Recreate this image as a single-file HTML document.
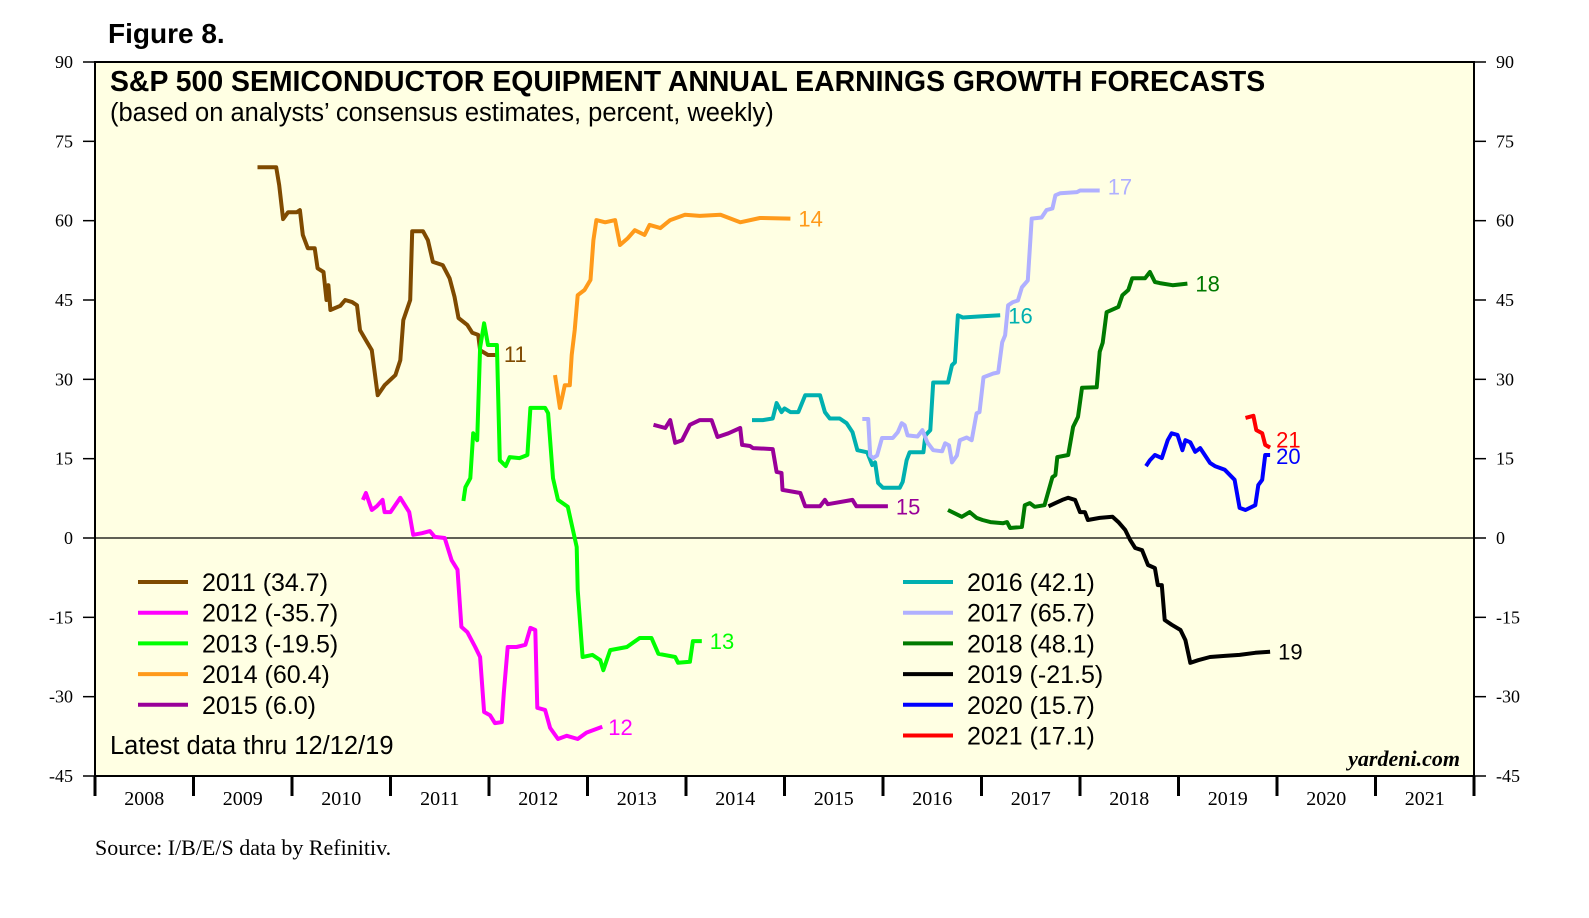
<!DOCTYPE html>
<html><head><meta charset="utf-8"><style>
body{margin:0;background:#fff;}
svg{display:block;}
</style></head><body>
<svg id="chart" width="1589" height="918" xmlns="http://www.w3.org/2000/svg">
<text x="108" y="43" font-family="Liberation Sans, sans-serif" font-weight="bold" font-size="28">Figure 8.</text>
<rect x="95" y="62" width="1379" height="714" fill="#FFFFE3" stroke="#000" stroke-width="2"/>
<text x="110" y="91" font-family="Liberation Sans, sans-serif" font-weight="bold" font-size="28.4">S&amp;P 500 SEMICONDUCTOR EQUIPMENT ANNUAL EARNINGS GROWTH FORECASTS</text>
<text x="110" y="121" font-family="Liberation Sans, sans-serif" font-size="25.5">(based on analysts’ consensus estimates, percent, weekly)</text>
<g id="axes"></g>
<g id="series"></g>
<g id="legend"></g>
<text x="110" y="754" font-family="Liberation Sans, sans-serif" font-size="25.5">Latest data thru 12/12/19</text>
<text x="1460" y="766" text-anchor="end" font-family="Liberation Serif, serif" font-weight="bold" font-style="italic" font-size="22">yardeni.com</text>
<text x="95" y="855" font-family="Liberation Serif, serif" font-size="22">Source: I/B/E/S data by Refinitiv.</text>
</svg>
<script>
const yTicks=[90,75,60,45,30,15,0,-15,-30,-45];
const years=[2008,2009,2010,2011,2012,2013,2014,2015,2016,2017,2018,2019,2020,2021];
const seriesNames=['2011','2012','2013','2014','2015','2016','2017','2018','2019','2020','2021'];
const legendValues=['34.7','-35.7','-19.5','60.4','6.0','42.1','65.7','48.1','-21.5','15.7','17.1'];
const endLabels=['11','12','13','14','15','16','17','18','19','20','21'];
const s2011=[[2009.65,70.1],[2009.84,70.1],[2009.87,66.7],[2009.91,60.3],[2009.96,61.6],[2010.05,61.6],[2010.08,62],[2010.11,57.3],[2010.16,54.8],[2010.23,54.8],[2010.26,51],[2010.32,50.3],[2010.35,45],[2010.37,47.8],[2010.39,43.1],[2010.49,43.9],[2010.54,45],[2010.61,44.6],[2010.66,44],[2010.69,39.3],[2010.75,37.4],[2010.81,35.5],[2010.87,27],[2010.94,28.9],[2011.05,30.8],[2011.10,33.6],[2011.13,41.2],[2011.20,45],[2011.22,58],[2011.33,58],[2011.38,56.3],[2011.43,52.2],[2011.53,51.6],[2011.60,49.1],[2011.65,45.6],[2011.69,41.6],[2011.78,40.3],[2011.83,38.8],[2011.89,38.4],[2011.91,35.5],[2011.99,34.6],[2012.09,34.6]];
const s2012=[[2010.72,7.2],[2010.75,8.5],[2010.81,5.3],[2010.86,6],[2010.92,7.2],[2010.94,4.9],[2011.0,4.9],[2011.10,7.6],[2011.19,4.9],[2011.23,0.6],[2011.32,0.9],[2011.40,1.3],[2011.45,0.2],[2011.55,0],[2011.62,-4.2],[2011.68,-6],[2011.72,-16.8],[2011.78,-17.8],[2011.86,-20.6],[2011.91,-22.5],[2011.95,-32.9],[2012.01,-33.5],[2012.06,-35],[2012.13,-34.8],[2012.15,-29.3],[2012.19,-20.6],[2012.28,-20.6],[2012.37,-20.2],[2012.42,-17],[2012.47,-17.4],[2012.49,-32.1],[2012.57,-32.5],[2012.62,-35.9],[2012.70,-38],[2012.79,-37.4],[2012.90,-38],[2012.99,-36.8],[2013.15,-35.7]];
const s2013=[[2011.74,7],[2011.76,9.6],[2011.81,11.3],[2011.84,19.8],[2011.88,18.5],[2011.91,36],[2011.95,40.6],[2011.99,36.5],[2012.08,36.5],[2012.11,14.7],[2012.17,13.6],[2012.21,15.3],[2012.31,15.1],[2012.39,15.7],[2012.42,24.6],[2012.57,24.6],[2012.60,23.6],[2012.65,11.3],[2012.70,7.2],[2012.80,5.9],[2012.89,-1.7],[2012.90,-9.8],[2012.95,-22.5],[2013.05,-22.1],[2013.13,-23.1],[2013.16,-25],[2013.23,-21.2],[2013.40,-20.6],[2013.53,-18.9],[2013.65,-18.9],[2013.72,-21.9],[2013.89,-22.5],[2013.92,-23.6],[2014.04,-23.4],[2014.07,-19.5],[2014.16,-19.5]];
const s2014=[[2012.67,30.8],[2012.72,24.6],[2012.77,28.9],[2012.82,28.9],[2012.84,34.6],[2012.87,39.3],[2012.90,45.9],[2012.97,46.9],[2013.03,48.8],[2013.06,56.3],[2013.09,60.1],[2013.18,59.7],[2013.28,60.1],[2013.33,55.4],[2013.41,56.7],[2013.48,58.2],[2013.58,57.3],[2013.63,59.2],[2013.74,58.6],[2013.84,60.1],[2013.99,61.1],[2014.14,60.9],[2014.35,61.1],[2014.55,59.7],[2014.75,60.5],[2015.06,60.4]];
const s2015=[[2013.67,21.4],[2013.79,20.8],[2013.84,22.3],[2013.89,18],[2013.96,18.5],[2014.04,21.4],[2014.14,22.3],[2014.26,22.3],[2014.32,19.1],[2014.43,19.8],[2014.55,20.8],[2014.57,17.6],[2014.65,17.4],[2014.68,17],[2014.88,16.8],[2014.92,12.5],[2014.97,12.3],[2014.98,9.1],[2015.16,8.5],[2015.21,6],[2015.36,6],[2015.41,7.2],[2015.44,6.4],[2015.69,7.2],[2015.73,6],[2016.05,6]];
const s2016=[[2014.67,22.3],[2014.78,22.3],[2014.88,22.6],[2014.92,25.5],[2014.97,23.8],[2015.00,24.5],[2015.06,23.8],[2015.14,23.8],[2015.21,27],[2015.36,27],[2015.41,23.8],[2015.46,22.6],[2015.56,22.6],[2015.63,21.7],[2015.69,20],[2015.74,16.6],[2015.84,16.2],[2015.89,13.8],[2015.92,14.3],[2015.95,10.4],[2016.00,9.5],[2016.17,9.5],[2016.20,10.6],[2016.24,14.7],[2016.27,16.2],[2016.41,16.2],[2016.43,19.4],[2016.48,20.4],[2016.51,29.4],[2016.66,29.4],[2016.70,32.7],[2016.73,33.2],[2016.76,42.1],[2016.81,41.7],[2016.99,41.9],[2017.19,42.1]];
const s2017=[[2015.79,22.5],[2015.85,22.5],[2015.87,15.6],[2015.90,15.1],[2015.94,15.6],[2015.99,18.9],[2016.10,18.9],[2016.15,20],[2016.19,21.7],[2016.22,21.3],[2016.25,19.4],[2016.35,19.2],[2016.40,20.4],[2016.45,18.1],[2016.51,16.6],[2016.60,16.4],[2016.63,17.9],[2016.67,17.5],[2016.70,14.3],[2016.75,15.6],[2016.78,18.5],[2016.85,19],[2016.90,18.5],[2016.95,23.6],[2016.98,23.8],[2017.02,30.4],[2017.12,31.1],[2017.17,31.3],[2017.21,37],[2017.24,38.3],[2017.27,44],[2017.32,44.6],[2017.37,44.9],[2017.41,47.4],[2017.47,48.7],[2017.51,60.4],[2017.61,60.6],[2017.66,62],[2017.72,62.3],[2017.75,64.8],[2017.80,65.2],[2017.97,65.4],[2018.00,65.7],[2018.20,65.7]];
const s2018=[[2016.66,5.3],[2016.80,4],[2016.88,4.9],[2016.95,3.8],[2017.01,3.4],[2017.09,3],[2017.22,2.8],[2017.26,3],[2017.29,1.9],[2017.41,2.1],[2017.44,6.2],[2017.49,6.6],[2017.54,5.9],[2017.64,6.2],[2017.72,11.5],[2017.75,11.9],[2017.77,15.3],[2017.88,15.7],[2017.93,21],[2017.98,22.9],[2018.02,28.4],[2018.17,28.5],[2018.20,35.2],[2018.23,36.9],[2018.27,42.7],[2018.39,43.7],[2018.43,45.9],[2018.49,46.9],[2018.53,49.1],[2018.66,49.1],[2018.71,50.3],[2018.76,48.4],[2018.81,48.2],[2018.94,47.8],[2019.09,48.1]];
const s2019=[[2017.68,6],[2017.75,6.6],[2017.82,7.2],[2017.88,7.6],[2017.95,7.2],[2018.00,4.9],[2018.05,4.9],[2018.08,3.4],[2018.20,3.8],[2018.33,4],[2018.39,3],[2018.46,1.5],[2018.51,-0.4],[2018.56,-1.9],[2018.63,-2.3],[2018.69,-5.1],[2018.76,-5.7],[2018.79,-8.9],[2018.83,-8.9],[2018.86,-15.5],[2018.93,-16.4],[2019.02,-17.4],[2019.07,-19.3],[2019.12,-23.6],[2019.20,-23.1],[2019.32,-22.5],[2019.47,-22.3],[2019.62,-22.1],[2019.78,-21.7],[2019.93,-21.5]];
const s2020=[[2018.67,13.6],[2018.71,14.7],[2018.76,15.7],[2018.83,15.1],[2018.89,18.5],[2018.93,19.8],[2018.99,19.5],[2019.04,16.6],[2019.07,18.5],[2019.12,18.1],[2019.17,16.3],[2019.22,17],[2019.32,14.2],[2019.37,13.6],[2019.47,12.9],[2019.57,11],[2019.62,5.7],[2019.68,5.3],[2019.78,6.2],[2019.81,10],[2019.85,11],[2019.88,15.7],[2019.93,15.7]];
const s2021=[[2019.68,22.7],[2019.76,23.1],[2019.79,20.4],[2019.85,19.8],[2019.88,17.6],[2019.93,17.1]];
const allSeries=[s2011,s2012,s2013,s2014,s2015,s2016,s2017,s2018,s2019,s2020,s2021];
const colors=['#7F4A00','#FF00FF','#00FF00','#FF9A1A','#990099','#00B0B0','#B0B0FF','#007A00','#000000','#0000FF','#FF0000'];
const labelOffsets=[[6,7],[6,8],[8,8],[8,8],[8,8],[8,8],[8,4],[8,8],[8,8],[6,9],[6,0]];

const NS='http://www.w3.org/2000/svg';
const X0=95,X1=1474,Y0=62,Y1=776;
function xs(t){return X0+(t-2008)/14*(X1-X0);}
function ys(v){return Y0+(90-v)/135*(Y1-Y0);}
function mk(tag,attrs,parent){const e=document.createElementNS(NS,tag);for(const k in attrs)e.setAttribute(k,attrs[k]);parent.appendChild(e);return e;}
const axes=document.getElementById('axes');
yTicks.forEach(v=>{
  const y=ys(v);
  const tl=mk('line',{x1:X0-12,x2:X0,y1:y,y2:y,stroke:'#000','stroke-width':1.5},axes);
  
  
  const tr=mk('line',{x1:X1,x2:X1+12,y1:y,y2:y,stroke:'#000','stroke-width':1.5},axes);
  
  
  const a=mk('text',{x:X0-22,y:y+6,'text-anchor':'end','font-family':'Liberation Serif, serif','font-size':18},axes);
  a.textContent=v;
  
  
  const b=mk('text',{x:X1+22,y:y+6,'font-family':'Liberation Serif, serif','font-size':18},axes);
  b.textContent=v;
  
  
});
const zl=mk('line',{x1:X0,x2:X1,y1:ys(0),y2:ys(0),stroke:'#000','stroke-width':1.2},axes);


years.forEach((yr,i)=>{
  const x=xs(yr);
  const t=mk('line',{x1:x,x2:x,y1:Y1,y2:Y1+20,stroke:'#000','stroke-width':3},axes);
  
  
  const l=mk('text',{x:xs(yr+0.5),y:Y1+29,'text-anchor':'middle','font-family':'Liberation Serif, serif','font-size':20},axes);
  l.textContent=yr;
  
  
});
const xe=mk('line',{x1:X1,x2:X1,y1:Y1,y2:Y1+20,stroke:'#000','stroke-width':3},axes);



const sg=document.getElementById('series');
allSeries.forEach((s,i)=>{
  const d=s.map((p,j)=>(j?'L':'M')+xs(p[0]).toFixed(1)+','+ys(p[1]).toFixed(1)).join(' ');
  const p=mk('path',{d:d,fill:'none',stroke:colors[i],'stroke-width':4,'stroke-linejoin':'round'},sg);
  
  
  const last=s[s.length-1];
  const t=mk('text',{x:xs(last[0])+labelOffsets[i][0],y:ys(last[1])+labelOffsets[i][1],fill:colors[i],'font-family':'Liberation Sans, sans-serif','font-size':22},sg);
  t.textContent=endLabels[i];
  
  
});

const lg=document.getElementById('legend');
seriesNames.forEach((n,i)=>{
  const col=i<5?0:1, row=i<5?i:i-5;
  const lx=col?903:138, ly=582+row*30.7;
  const ln=mk('line',{x1:lx,x2:lx+50,y1:ly,y2:ly,stroke:colors[i],'stroke-width':4},lg);
  
  
  const t=mk('text',{x:lx+64,y:ly+9,'font-family':'Liberation Sans, sans-serif','font-size':25},lg);
  t.textContent=n+' ('+legendValues[i]+')';
  
  
});
</script>
</body></html>
